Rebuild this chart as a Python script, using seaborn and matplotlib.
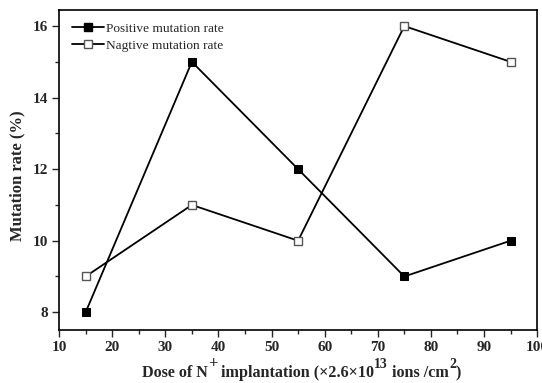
import matplotlib
matplotlib.use("Agg")
import matplotlib.pyplot as plt
from matplotlib.ticker import MultipleLocator
from matplotlib.lines import Line2D
import seaborn as sns
import pandas as pd

dose = [15, 35, 55, 75, 95]
positive_rate = [8, 15, 12, 9, 10]
negative_rate = [9, 11, 10, 16, 15]
series_names = ["Positive mutation rate", "Nagtive mutation rate"]

df = pd.DataFrame({
    "dose": dose * 2,
    "rate": positive_rate + negative_rate,
    "series": [series_names[0]] * len(dose) + [series_names[1]] * len(dose),
})

sns.set_theme(style="ticks")
plt.rcParams["font.family"] = ["Liberation Serif", "DejaVu Serif"]

W, H = 542, 383
fig = plt.figure(figsize=(W / 100, H / 100), dpi=100)
ax = fig.add_axes([0.109, 0.138, 0.882, 0.836])

sns.lineplot(data=df, x="dose", y="rate", hue="series", style="series",
             palette=["black", "black"], markers={series_names[0]: "s", series_names[1]: "s"},
             dashes=False, ax=ax, linewidth=1.3, markersize=5.5, legend=False)

lines = ax.get_lines()
lines[0].set_markerfacecolor("black")
lines[0].set_markeredgecolor("black")
lines[1].set_markerfacecolor("white")
lines[1].set_markeredgecolor("#555555")
lines[1].set_markeredgewidth(1.0)

handles = [
    Line2D([], [], color="black", lw=1.3, marker="s", markersize=5.5, mfc="black", mec="black"),
    Line2D([], [], color="black", lw=1.3, marker="s", markersize=5.5, mfc="white", mec="#555555"),
]
ax.legend(handles, series_names, loc="upper left", frameon=False, fontsize=9.6,
          handlelength=2.4, handletextpad=0.15, borderaxespad=0.0, borderpad=0.0,
          labelspacing=0.35, bbox_to_anchor=(0.028, 0.96))

ax.set_xlim(10, 100)
ax.set_ylim(7.5, 16.45)
ax.xaxis.set_major_locator(MultipleLocator(10))
ax.xaxis.set_minor_locator(MultipleLocator(5))
ax.yaxis.set_major_locator(MultipleLocator(2))
ax.yaxis.set_minor_locator(MultipleLocator(1))
ax.tick_params(axis="both", which="major", direction="out", length=5, width=1, labelsize=11, pad=3)
ax.tick_params(axis="both", which="minor", direction="out", length=3, width=1)
ax.tick_params(top=False, right=False, which="both")
for lbl in ax.get_xticklabels() + ax.get_yticklabels():
    lbl.set_fontweight("bold")
for sp in ax.spines.values():
    sp.set_linewidth(1.2)
    sp.set_color("black")
    sp.set_visible(True)

ax.set_xlabel("")
ax.set_ylabel("Mutation rate (%)", fontsize=12, fontweight="bold")
ax.yaxis.set_label_coords(-0.071, 0.483)

# x-axis label built from pieces so the superscripts stay large
pieces = [
    ("Dose of N", 11.6, 0),
    ("+", 12, 9),
    (" implantation (\u00d72.6\u00d710", 11.6, 0),
    ("13", 10, 9),
    (" ions /cm", 11.6, 0),
    ("2", 10, 9),
    (")", 11.6, 0),
]
texts = [fig.text(0, 0, txt, fontsize=size, fontweight="bold", ha="left", va="baseline")
         for txt, size, rise in pieces]
fig.canvas.draw()
renderer = fig.canvas.get_renderer()
x_px = 142.0
base_px = H - 377.0
for t, (txt, size, rise) in zip(texts, pieces):
    t.set_position((x_px / W, (base_px + rise) / H))
    bb = t.get_window_extent(renderer)
    x_px += bb.width

fig.savefig("out.png", dpi=100)
